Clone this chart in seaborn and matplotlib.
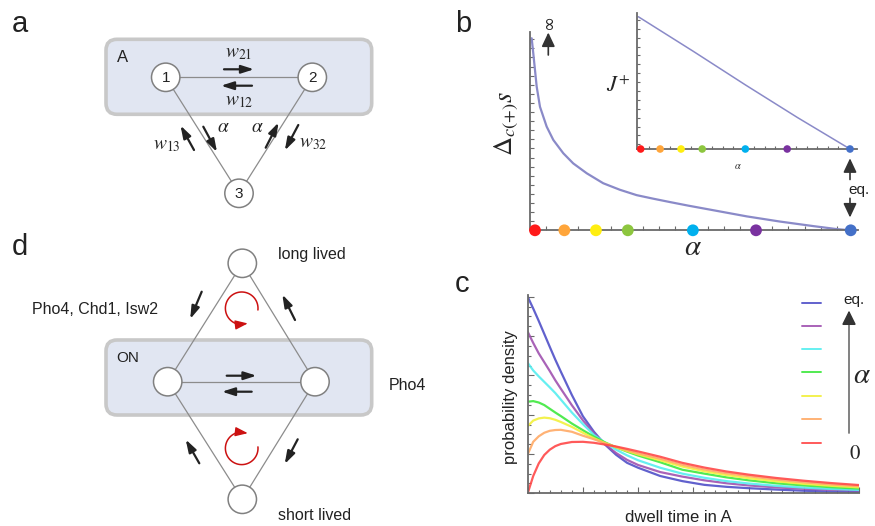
import numpy as np
import pandas as pd
import matplotlib
matplotlib.use('Agg')
import matplotlib.pyplot as plt
import seaborn as sns
from matplotlib.patches import FancyBboxPatch, Circle
from matplotlib.ticker import MultipleLocator

# ---------------- data ----------------
# panel b : Delta_c(+) s versus alpha
b_alpha = [-0.0105, -0.0054, 0.0054, 0.0158, 0.037, 0.058, 0.0896, 0.121, 0.164,
           0.216, 0.269, 0.322, 0.375, 0.428, 0.486, 0.565, 0.671, 0.776, 0.882, 0.956, 1.0]
b_delta = [0.967, 0.891, 0.723, 0.622, 0.522, 0.455, 0.388, 0.337, 0.287,
           0.237, 0.204, 0.177, 0.159, 0.142, 0.124, 0.101, 0.070, 0.044, 0.021, 0.006, 0.0]
# inset : J+ versus alpha
j_alpha = [-0.011, 0.25, 0.5, 0.75, 1.0]
j_flux = [1.0, 0.74, 0.485, 0.237, 0.0]
# alpha values marked by dots
dot_alpha = [0.0, 0.093, 0.193, 0.294, 0.5, 0.7, 1.0]
dot_names = ['r', 'o', 'y', 'g', 'c', 'p', 'eq']
dot_colors = ['#ff1a1a', '#ffa53a', '#ffee10', '#8dc63f', '#00b0ee', '#7a32a0', '#4470c8']

# panel c : dwell-time densities
t_grid = [0, 0.1, 0.2, 0.3, 0.4, 0.5, 0.6, 0.8, 1.0, 1.2, 1.4, 1.6, 1.8, 2.0,
          2.4, 2.8, 3.2, 3.6, 4.0, 4.5, 5.0, 5.5, 6.0]
dens_eq = [1.0, 0.94, 0.877, 0.811, 0.745, 0.680, 0.619, 0.500, 0.392, 0.313, 0.248, 0.196,
           0.155, 0.13, 0.088, 0.062, 0.043, 0.033, 0.026, 0.019, 0.013, 0.009, 0.007]
dens_purple = [0.822, 0.765, 0.712, 0.667, 0.622, 0.575, 0.532, 0.448, 0.371, 0.305, 0.25, 0.205,
               0.17, 0.144, 0.108, 0.085, 0.066, 0.051, 0.040, 0.030, 0.023, 0.018, 0.014]
dens_cyan = [0.664, 0.625, 0.595, 0.567, 0.539, 0.51, 0.477, 0.411, 0.352, 0.297, 0.258, 0.222,
             0.193, 0.168, 0.13, 0.1, 0.079, 0.062, 0.05, 0.038, 0.029, 0.022, 0.017]
dens_green = [0.466, 0.469, 0.462, 0.449, 0.43, 0.411, 0.393, 0.355, 0.321, 0.288, 0.259, 0.234,
              0.212, 0.192, 0.158, 0.12, 0.1, 0.081, 0.066, 0.051, 0.04, 0.031, 0.024]
dens_yellow = [0.342, 0.370, 0.381, 0.385, 0.382, 0.374, 0.363, 0.338, 0.308, 0.28, 0.256, 0.234,
               0.215, 0.198, 0.168, 0.136, 0.112, 0.093, 0.077, 0.061, 0.048, 0.038, 0.03]
dens_orange = [0.198, 0.262, 0.29, 0.308, 0.318, 0.322, 0.323, 0.313, 0.293, 0.275, 0.254, 0.236,
               0.219, 0.203, 0.176, 0.145, 0.121, 0.102, 0.087, 0.07, 0.056, 0.045, 0.036]
dens_red = [0.0, 0.088, 0.152, 0.195, 0.222, 0.24, 0.251, 0.261, 0.262, 0.257, 0.248, 0.238,
            0.226, 0.213, 0.186, 0.155, 0.131, 0.111, 0.095, 0.078, 0.064, 0.052, 0.042]
curve_names = ['eq', 'a5', 'a4', 'a3', 'a2', 'a1', 'a0']
curve_colors = ['#5050c8', '#a052b0', '#55eef0', '#3ee83e', '#f2f03c', '#ffaa66', '#ff4848']

# ---------------- style ----------------
sns.set_theme(style='white')
plt.rcParams['font.family'] = ['Liberation Sans', 'DejaVu Sans']
plt.rcParams['mathtext.fontset'] = 'stix'
AX = '#6a6a6a'

fig = plt.figure(figsize=(8.75, 5.26), dpi=100)
W, H = 875.0, 526.0


def pos(l, r, b, t):
    return [l / W, (H - b) / H, (r - l) / W, (b - t) / H]


def style_axes(ax):
    for s in ['top', 'right']:
        ax.spines[s].set_visible(False)
    for s in ['left', 'bottom']:
        ax.spines[s].set_color(AX)
        ax.spines[s].set_linewidth(1.3)
    ax.set_facecolor('none')
    ax.tick_params(which='both', direction='in', color=AX, width=0.8,
                   labelleft=False, labelbottom=False, left=True, bottom=True)
    ax.set_xlabel('')
    ax.set_ylabel('')


# ---------- panel b main ----------
axb = fig.add_axes(pos(530, 858, 230.3, 31.7))
dfb = pd.DataFrame({'alpha': b_alpha, 'delta': b_delta})
sns.lineplot(data=dfb, x='alpha', y='delta', ax=axb, color='#8a8ac8', lw=1.6,
             estimator=None, sort=False)
dfd = pd.DataFrame({'alpha': dot_alpha, 'val': [0.0] * 7, 'name': dot_names})
sns.scatterplot(data=dfd, x='alpha', y='val', hue='name', palette=dot_colors, s=72,
                edgecolor='none', legend=False, ax=axb, clip_on=False, zorder=5)
axb.set_xlim(-0.0158, 1.023)
axb.set_ylim(0, 1.0)
style_axes(axb)
axb.set_xticks(np.arange(0.0348, 1.02, 0.0512))
axb.set_yticks(np.arange(0.0458, 1.0, 0.0458))
axb.tick_params(length=3)

# ---------- panel b inset ----------
axi = fig.add_axes(pos(637.3, 856.7, 149, 13.3))
dfj = pd.DataFrame({'alpha': j_alpha, 'j': j_flux})
sns.lineplot(data=dfj, x='alpha', y='j', ax=axi, color='#8a8ac8', lw=1.1,
             estimator=None, sort=False)
sns.scatterplot(data=dfd, x='alpha', y='val', hue='name', palette=dot_colors, s=30,
                edgecolor='none', legend=False, ax=axi, clip_on=False, zorder=5)
axi.set_xlim(-0.016, 1.032)
axi.set_ylim(0, 1.026)
style_axes(axi)
axi.set_xticks(np.arange(0.041, 1.03, 0.0502))
axi.set_yticks(np.arange(0.035, 1.03, 0.0672))
axi.tick_params(length=2.2)

# ---------- panel c ----------
axc = fig.add_axes(pos(527.7, 859, 493.3, 295))
series = [dens_eq, dens_purple, dens_cyan, dens_green, dens_yellow, dens_orange, dens_red]
rows = []
for name, vals in zip(curve_names, series):
    for t, v in zip(t_grid, vals):
        rows.append({'t': t, 'dens': v, 'curve': name})
dfc = pd.DataFrame(rows)
sns.lineplot(data=dfc, x='t', y='dens', hue='curve', hue_order=curve_names,
             palette=curve_colors, lw=1.6, alpha=0.9, estimator=None, legend=False, ax=axc)
axc.set_xlim(0, 6.0)
axc.set_ylim(0, 1.009)
style_axes(axc)
axc.set_xticks(np.arange(0, 6.01, 1.0))
axc.xaxis.set_minor_locator(MultipleLocator(0.2))
axc.set_yticks(np.arange(0, 1.01, 0.2))
axc.yaxis.set_minor_locator(MultipleLocator(0.05))
axc.tick_params(which='major', length=4.5)
axc.tick_params(which='minor', length=2.5)

# ---------- overlay (diagrams and annotations), pixel coordinates ----------
ax0 = fig.add_axes([0, 0, 1, 1])
ax0.set_xlim(0, W)
ax0.set_ylim(H, 0)
ax0.axis('off')
ax0.patch.set_visible(False)

BOXF = '#e1e6f2'
BOXE = '#c8c8c8'
CE = '#808080'
LC = '#8c8c8c'
R = 14.2


def box(x0, y0, x1, y1):
    ax0.add_patch(FancyBboxPatch((x0, y0), x1 - x0, y1 - y0,
                                 boxstyle='round,pad=0,rounding_size=11',
                                 fc=BOXF, ec=BOXE, lw=2.6, zorder=1))


def node(x, y, label=None):
    ax0.add_patch(Circle((x, y), R, fc='white', ec=CE, lw=1.1, zorder=3))
    if label:
        ax0.text(x, y + 0.5, label, ha='center', va='center', fontsize=11, color='#222', zorder=4)


def edge(p, q):
    ax0.plot([p[0], q[0]], [p[1], q[1]], color=LC, lw=0.9, zorder=2)


def arrow(tail, tip, color='#222222', hl=0.75, hw=0.24, lw=1.6, ms=10):
    ax0.annotate('', xy=tip, xytext=tail, zorder=4,
                 arrowprops=dict(arrowstyle=f'-|>,head_length={hl},head_width={hw}',
                                 color=color, lw=lw, mutation_scale=ms,
                                 shrinkA=0, shrinkB=0))


def label(x, y, s):
    ax0.text(x, y, s, fontsize=21, ha='center', va='center', color='#222')


# panel a
label(20, 24, 'a')
box(106, 39.3, 371.7, 114.3)
ax0.text(116.5, 57, 'A', fontsize=12, ha='left', va='center', color='#222')
n1, n2, n3 = (165.7, 77.3), (312.3, 77.3), (239, 193.3)
edge(n1, n2)
edge(n1, n3)
edge(n2, n3)
node(*n1, '1')
node(*n2, '2')
node(*n3, '3')
arrow((224, 69.3), (254, 69.3))
arrow((252, 85.7), (221, 85.7))
ax0.text(239, 53, r'$w_{21}$', fontsize=14, ha='center', va='center')
ax0.text(239, 101, r'$w_{12}$', fontsize=14, ha='center', va='center')
arrow((194, 150), (180.5, 125.5))
arrow((203.3, 126.7), (217, 152))
arrow((265.7, 147.7), (278.6, 122.5))
arrow((298.3, 125), (284.8, 150.5))
ax0.text(223.5, 127, r'$\alpha$', fontsize=14, ha='center', va='center')
ax0.text(257.3, 127, r'$\alpha$', fontsize=14, ha='center', va='center')
ax0.text(166.7, 146, r'$w_{13}$', fontsize=14, ha='center', va='center')
ax0.text(313.5, 144, r'$w_{32}$', fontsize=14, ha='center', va='center')

# panel d
label(20, 247, 'd')
box(106, 340, 371.7, 415)
ax0.text(116, 358.5, 'ON', fontsize=11, ha='left', va='center', color='#222')
top, bot = (242.3, 263.3), (242.3, 499.3)
lft, rgt = (167.7, 381.7), (315, 381.7)
edge(lft, rgt)
edge(lft, top)
edge(rgt, top)
edge(lft, bot)
edge(rgt, bot)
for p in (top, bot, lft, rgt):
    node(*p)
arrow((226.7, 375.7), (256.5, 375.7))
arrow((251.7, 391.7), (222, 391.7))
arrow((201.7, 291.7), (190.2, 319))
arrow((295, 320), (282.3, 294.5))
arrow((199.3, 463.3), (185.7, 439.5))
arrow((297.7, 439.3), (284.7, 464))
ax0.text(278.5, 255, 'long lived', fontsize=11.5, ha='left', va='center', color='#222')
ax0.text(278.5, 516, 'short lived', fontsize=11.5, ha='left', va='center', color='#222')
ax0.text(31.5, 310, 'Pho4, Chd1, Isw2', fontsize=11.5, ha='left', va='center', color='#222')
ax0.text(388.3, 385, 'Pho4', fontsize=11.5, ha='left', va='center', color='#222')

# red circulation arrows
RED = '#cc1111'
rr = 16.3


def circ(cx, cy, deg):
    th = np.deg2rad(deg)
    return cx + rr * np.cos(th), cy - rr * np.sin(th)


th = np.linspace(-6, 262, 120)
xs, ys = circ(241.7, 308.3, th)
ax0.plot(xs, ys, color=RED, lw=1.1, zorder=4)
arrow(circ(241.7, 308.3, 262), circ(241.7, 308.3, 292), color=RED, hl=0.75, hw=0.28, lw=1.0)
th = np.linspace(5, -262, 120)
xs, ys = circ(241.7, 448.3, th)
ax0.plot(xs, ys, color=RED, lw=1.1, zorder=4)
arrow(circ(241.7, 448.3, -262), circ(241.7, 448.3, -292), color=RED, hl=0.75, hw=0.28, lw=1.0)

# panel b annotations
label(463.3, 24, 'b')
DARK = '#333333'
arrow((548.3, 55), (548.3, 32.5), color=DARK, hl=0.85, hw=0.4, lw=1.2)
ax0.text(549, 23, '∞', fontsize=13, rotation=90, ha='center', va='center', color='#222',
         family=['DejaVu Sans'])
arrow((850, 179.5), (850, 158.3), color=DARK, hl=0.85, hw=0.4, lw=1.2)
arrow((850, 198.3), (850, 217.5), color=DARK, hl=0.85, hw=0.4, lw=1.2)
ax0.text(848.5, 190, 'eq.', fontsize=11, ha='left', va='center', color='#222')
ax0.text(506.7, 123, r'$\Delta_{c(+)}s$', fontsize=19, rotation=90, ha='center', va='center')
ax0.text(693.3, 247, r'$\alpha$', fontsize=21, ha='center', va='center')
ax0.text(618, 86.7, r'$J^{+}$', fontsize=16, ha='center', va='center')
ax0.text(737.7, 165.7, r'$\alpha$', fontsize=7.5, ha='center', va='center')

# panel c annotations
label(461.7, 284, 'c')
ax0.text(510, 396.7, 'probability density', fontsize=12, rotation=90,
         ha='center', va='center', color='#222')
ax0.text(678.3, 517, 'dwell time in A', fontsize=12, ha='center', va='center', color='#222')
leg_y = [302.7, 325.7, 349.3, 372.3, 396, 419.3, 442.7]
for yy, cc in zip(leg_y, curve_colors):
    ax0.plot([801.7, 820.7], [yy, yy], color=cc, lw=1.4, alpha=0.9)
ax0.plot([849, 849], [433, 320], color='#777777', lw=1.3)
arrow((849, 322.5), (849, 310.5), color=DARK, hl=0.85, hw=0.42, lw=1.2)
ax0.text(843.3, 300, 'eq.', fontsize=11, ha='left', va='center', color='#222')
ax0.text(862, 375, r'$\alpha$', fontsize=21, ha='center', va='center')
ax0.text(855, 453.5, r'$0$', fontsize=15, ha='center', va='center')

fig.savefig('out.png', dpi=100)
